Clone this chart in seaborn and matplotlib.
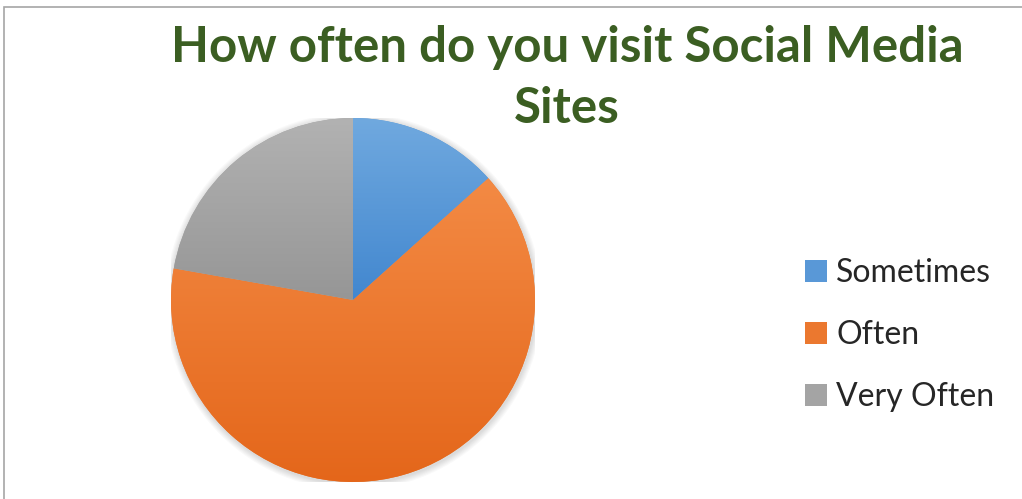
import numpy as np
import matplotlib
matplotlib.use("Agg")
import matplotlib.pyplot as plt
import matplotlib.patches as mpatches
from matplotlib.colors import LinearSegmentedColormap
import seaborn as sns

# Survey responses
categories = ["Sometimes", "Often", "Very Often"]
responses = [6, 29, 10]
title = "How often do you visit Social Media\nSites"

# light (top) / dark (bottom) shade of each slice
top_colors = ["#70a9df", "#f38a44", "#b2b2b2"]
bottom_colors = ["#4287cf", "#e4661a", "#969696"]

sns.set_theme(style="white")
plt.rcParams["font.family"] = ["Lato", "DejaVu Sans"]

W, H = 1022, 499
fig = plt.figure(figsize=(W / 100, H / 100), dpi=100)
fig.patch.set_facecolor("white")

cx, cy, r = 353, 300, 182
ax = fig.add_axes([(cx - r) / W, (H - cy - r) / H, 2 * r / W, 2 * r / H])

mid_colors = [sns.blend_palette([t, b], 3)[1] for t, b in zip(top_colors, bottom_colors)]
wedges, _ = ax.pie(responses, startangle=90, counterclock=False, radius=1,
                   colors=mid_colors, wedgeprops=dict(linewidth=0))
ax.set_aspect("equal")
ax.axis("off")

# soft shadow behind the pie
for k in range(6):
    ax.add_patch(mpatches.Circle((0.004, -0.008), 1.0 + 0.006 * (k + 1), color="black",
                                 alpha=0.025, zorder=0, linewidth=0))

# vertical gradient inside every slice
for w, t, b in zip(wedges, top_colors, bottom_colors):
    pts = w.get_patch_transform().transform(w.get_path().vertices)
    x0, x1 = pts[:, 0].min(), pts[:, 0].max()
    y0, y1 = pts[:, 1].min(), pts[:, 1].max()
    cmap = LinearSegmentedColormap.from_list("g", [b, t])
    grad = np.linspace(0, 1, 256).reshape(-1, 1)
    im = ax.imshow(grad, cmap=cmap, extent=[x0, x1, y0, y1], origin="lower",
                   aspect="auto", zorder=2, interpolation="bilinear")
    im.set_clip_path(w)
ax.set_xlim(-1, 1)
ax.set_ylim(-1, 1)

# title
fig.text(567 / W, 1 - 25 / H, title, ha="center", va="top", fontsize=35.5,
         fontweight="bold", color="#3b5e22", linespacing=1.42)

# legend
handles = [mpatches.Patch(facecolor=c, edgecolor="none") for c in mid_colors]
fig.legend(handles, categories, loc="upper left", bbox_to_anchor=(805 / W, 1 - 258 / H),
           frameon=False, fontsize=23, handlelength=0.68, handleheight=0.68,
           handletextpad=0.3, labelspacing=1.0, borderaxespad=0, borderpad=0)

# chart area border
fig.add_artist(mpatches.Rectangle((4 / W, -0.1), 1.2, 1.1 - 7 / H, transform=fig.transFigure,
                                  fill=False, edgecolor="#a6a6a6", linewidth=1.2))

fig.savefig("out.png", dpi=100, facecolor="white")
